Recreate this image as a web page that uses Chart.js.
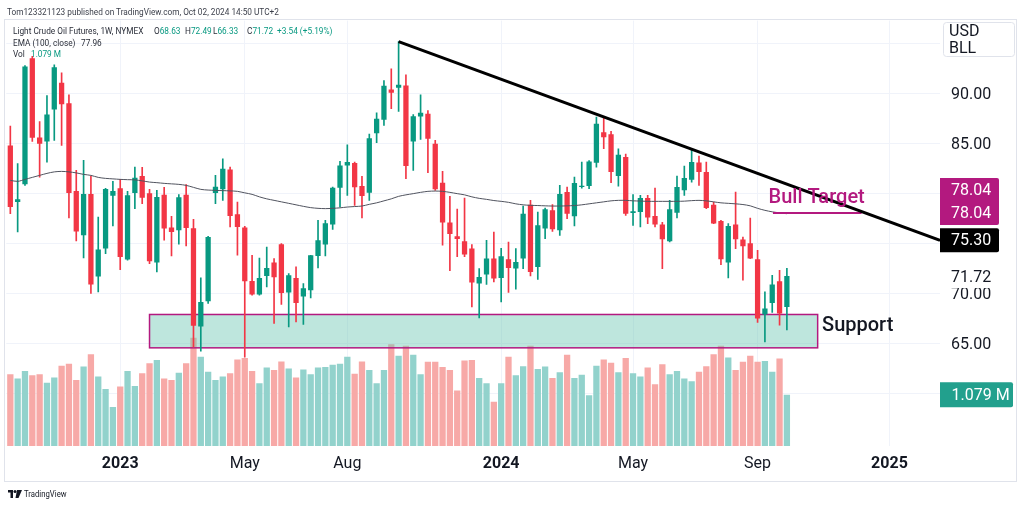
<!DOCTYPE html>
<html>
<head>
<meta charset="utf-8">
<script src="https://cdn.jsdelivr.net/npm/chart.js@4.4.1/dist/chart.umd.min.js"></script>
<style>
  body { margin: 0; background: #fff; font-family: Roboto, "Noto Sans", sans-serif; color: #131722; }
  #wrap { position: relative; width: 1024px; height: 506px; overflow: hidden; }
  #c { position: absolute; left: 0; top: 0; }
  .frame { position: absolute; left: 4px; top: 19px; width: 1013px; height: 463px; border: 1px solid #e0e3eb; box-sizing: border-box; }
  .t { position: absolute; white-space: nowrap; line-height: 11px; font-size: 9.2px; color: #2a2e39; transform: scaleX(0.9); transform-origin: 0 0; }
  .g { color: #089981; }
</style>
</head>
<body>
<div id="wrap">
  <div class="frame"></div>
  <canvas id="c" width="1024" height="506"></canvas>
  <div class="t" style="left:7px;top:6px;font-size:9.6px;color:#3b3f4a;transform:scaleX(0.86)">Tom123321123 published on TradingView.com, Oct 02, 2024 14:50 UTC+2</div>
  <div class="t" style="left:12.7px;top:25px">Light Crude Oil Futures, 1W, NYMEX</div>
  <div class="t" style="left:154px;top:25px">O<span class="g">68.63</span></div>
  <div class="t" style="left:185px;top:25px">H<span class="g">72.49</span></div>
  <div class="t" style="left:213px;top:25px">L<span class="g">66.33</span></div>
  <div class="t" style="left:246.5px;top:25px">C<span class="g">71.72</span></div>
  <div class="t g" style="left:277px;top:25px">+3.54 (+5.19%)</div>
  <div class="t" style="left:12.7px;top:37px">EMA (100, close)</div>
  <div class="t" style="left:81px;top:37px">77.96</div>
  <div class="t" style="left:12.7px;top:48px">Vol</div>
  <div class="t g" style="left:30.7px;top:48px">1.079 M</div>
  <svg style="position:absolute;left:8px;top:490px" width="14" height="8" viewBox="0 0 14 8">
    <path d="M0 0h5v8h-2.5v-5.5h-2.5z" fill="#131722"/>
    <circle cx="7" cy="1.6" r="1.5" fill="#131722"/>
    <path d="M9 0h5l-3.5 8h-3z" fill="#131722"/>
  </svg>
  <div class="t" style="left:24px;top:489px;font-size:8.6px;line-height:10px;color:#131722">TradingView</div>
</div>
<script>
// weekly candles, week of Sep 19 2022 ... week of Sep 30 2024 (index 0..106)
const opens = [84.80, 79.13, 80.90, 93.53, 85.60, 85.20, 88.40, 91.07, 89.03, 80.23,
  75.80, 79.93, 71.67, 74.47, 79.77, 80.50, 73.37, 80.03, 81.73, 80.00,
  73.07, 79.87, 76.57, 76.30, 79.87, 76.50, 66.67, 69.20, 80.03, 80.40,
  82.40, 77.90, 76.57, 71.23, 69.87, 71.73, 73.07, 74.90, 70.07, 71.53,
  69.67, 70.30, 73.73, 74.87, 76.87, 80.57, 82.80, 83.03, 80.73, 80.07,
  86.03, 87.37, 90.40, 90.57, 90.80, 85.20, 87.70, 87.97, 84.97, 81.07,
  77.07, 75.70, 75.20, 74.47, 70.97, 71.87, 73.47, 71.53, 73.40, 72.47,
  73.47, 78.87, 72.63, 76.47, 78.30, 76.30, 80.13, 77.70, 80.63, 80.73,
  83.07, 86.13, 85.93, 81.73, 83.63, 78.03, 78.13, 79.53, 77.73, 76.87,
  75.20, 78.07, 80.30, 81.37, 83.10, 82.13, 78.87, 77.23, 73.07, 76.87,
  75.37, 75.00, 73.40, 67.87, 69.03, 71.20, 68.63];
const highs = [86.73, 82.97, 92.80, 93.73, 87.20, 89.80, 92.87, 92.07, 89.87, 82.30,
  83.30, 81.73, 77.63, 80.50, 81.20, 81.40, 80.20, 82.63, 82.60, 80.40,
  80.30, 80.60, 77.70, 79.87, 80.87, 77.40, 71.53, 75.70, 81.80, 83.47,
  82.63, 79.13, 76.70, 73.80, 73.53, 74.63, 73.47, 74.97, 71.97, 72.63,
  70.97, 73.80, 77.30, 77.30, 80.63, 83.20, 84.87, 83.13, 81.70, 85.93,
  88.07, 91.30, 92.47, 95.20, 91.87, 87.90, 89.87, 88.30, 85.30, 82.20,
  79.70, 78.43, 79.53, 74.87, 72.47, 75.30, 76.13, 74.50, 75.13, 74.47,
  78.73, 79.30, 78.13, 78.53, 78.87, 80.80, 80.63, 81.63, 83.13, 83.27,
  87.63, 87.70, 86.20, 84.47, 83.93, 79.87, 79.80, 79.80, 80.53, 77.10,
  79.30, 81.73, 82.73, 84.47, 83.73, 83.13, 79.13, 77.30, 76.97, 80.13,
  75.63, 77.53, 74.30, 70.13, 71.80, 72.30, 72.49];
const lows = [77.97, 76.13, 80.80, 85.20, 81.63, 83.13, 85.30, 84.80, 77.53, 75.23,
  73.53, 69.97, 70.13, 73.97, 76.73, 72.37, 73.30, 78.47, 78.97, 72.97,
  72.13, 75.30, 73.73, 74.90, 74.73, 64.60, 64.20, 68.97, 78.97, 79.30,
  76.63, 73.80, 63.60, 69.80, 69.80, 70.63, 66.97, 68.87, 66.63, 67.13,
  66.87, 69.53, 72.53, 73.73, 76.40, 78.63, 79.80, 78.80, 77.53, 79.30,
  85.07, 86.80, 88.47, 88.20, 81.47, 82.30, 85.40, 82.07, 80.30, 74.80,
  72.27, 73.67, 73.67, 68.63, 67.53, 70.87, 71.13, 69.13, 70.07, 70.40,
  72.47, 71.73, 71.37, 75.47, 76.20, 75.80, 77.47, 76.73, 80.53, 80.47,
  82.63, 84.47, 81.07, 80.73, 77.80, 76.80, 76.63, 76.97, 76.63, 72.47,
  75.13, 77.53, 79.80, 81.13, 80.80, 78.47, 76.97, 72.87, 71.53, 74.47,
  71.30, 73.47, 67.07, 65.13, 68.07, 66.80, 66.33];
const closes = [78.63, 79.40, 92.70, 85.57, 84.97, 87.90, 92.63, 88.93, 80.03, 76.17,
  79.93, 70.87, 74.37, 80.43, 80.23, 73.63, 79.80, 81.57, 79.57, 73.20,
  79.63, 76.47, 76.13, 79.60, 76.53, 66.73, 69.13, 75.63, 80.67, 82.47,
  77.73, 76.63, 71.20, 69.87, 71.53, 72.53, 71.60, 70.03, 71.80, 69.03,
  70.50, 73.80, 75.30, 77.00, 80.57, 82.80, 83.13, 80.60, 79.73, 85.53,
  87.47, 90.77, 90.07, 90.87, 82.73, 87.73, 88.07, 85.47, 80.40, 77.07,
  75.93, 75.43, 73.87, 71.07, 71.63, 73.47, 71.47, 73.70, 72.53, 73.13,
  77.97, 72.13, 76.80, 78.40, 76.40, 79.93, 77.97, 81.03, 80.77, 83.20,
  86.97, 85.63, 82.13, 83.87, 77.97, 78.20, 79.53, 77.57, 76.87, 75.40,
  78.40, 80.63, 81.53, 83.13, 82.13, 78.53, 76.97, 73.40, 76.73, 75.40,
  74.70, 73.47, 67.47, 68.47, 70.87, 67.97, 71.72];
// volume, millions
const volumes = [1.51, 1.42, 1.58, 1.49, 1.51, 1.33, 1.44, 1.69, 1.73, 1.39,
  1.67, 1.93, 1.46, 1.20, 0.82, 1.25, 1.58, 1.26, 1.53, 1.74,
  1.81, 1.42, 1.39, 1.54, 1.74, 2.28, 1.88, 1.56, 1.39, 1.46,
  1.53, 1.82, 1.85, 1.58, 1.32, 1.65, 1.60, 1.78, 1.63, 1.44,
  1.61, 1.51, 1.65, 1.66, 1.71, 1.73, 1.88, 1.52, 1.78, 1.60,
  1.32, 1.60, 2.14, 1.90, 2.11, 1.92, 1.51, 1.77, 1.77, 1.66,
  1.60, 1.17, 1.80, 1.81, 1.43, 1.32, 0.93, 1.32, 1.88, 1.49,
  1.68, 2.11, 1.62, 1.67, 1.43, 1.55, 1.92, 1.43, 1.50, 1.07,
  1.69, 1.82, 1.75, 1.55, 1.85, 1.53, 1.46, 1.65, 1.30, 1.72,
  1.51, 1.58, 1.42, 1.36, 1.56, 1.68, 1.93, 2.11, 1.86, 1.60,
  1.77, 1.90, 1.77, 1.79, 1.56, 1.84, 1.079];
const ema100 = [81.30, 81.20, 81.40, 81.60, 81.80, 82.00, 82.15, 82.20, 82.15, 82.05,
  81.90, 81.80, 81.60, 81.50, 81.45, 81.40, 81.37, 81.35, 81.25, 81.13,
  81.07, 81.00, 80.95, 80.90, 80.80, 80.60, 80.40, 80.33, 80.30, 80.27,
  80.25, 80.20, 80.05, 79.90, 79.65, 79.45, 79.30, 79.15, 79.00, 78.85,
  78.70, 78.57, 78.50, 78.47, 78.50, 78.55, 78.63, 78.68, 78.73, 78.90,
  79.05, 79.25, 79.45, 79.70, 79.85, 79.97, 80.10, 80.20, 80.23, 80.20,
  80.10, 79.97, 79.85, 79.65, 79.50, 79.40, 79.28, 79.20, 79.10, 78.95,
  78.85, 78.80, 78.78, 78.75, 78.73, 78.73, 78.75, 78.78, 78.85, 78.95,
  79.05, 79.15, 79.25, 79.30, 79.30, 79.25, 79.23, 79.20, 79.20, 79.20,
  79.20, 79.20, 79.22, 79.27, 79.30, 79.25, 79.15, 79.05, 79.00, 78.95,
  78.88, 78.75, 78.50, 78.30, 78.15, 78.05, 77.96];

const tickIndex = [15, 32, 46, 67, 85, 102, 120];
const tickLabels = ["2023", "May", "Aug", "2024", "May", "Sep", "2025"];
const priceTicks = [60, 65, 70, 75, 80, 85, 90, 95];

// drawings
const trendX = [53, 126.9];
const trendY = [95.2, 75.3];
const targetX = [104.1, 116.2];
const targetPrice = 78.04;
const supportX = [19, 110.2];
const supportY = [64.53, 67.87];
const lastClose = 71.72;
const lastVolume = 1.079;

const UP = "#089981";
const DOWN = "#f23645";
const VOL_UP = "#92d2cc";
const VOL_DOWN = "#f7a9a7";
const MAGENTA = "#b3197f";

function isUp(i) { return i === undefined || closes[i] >= opens[i]; }

const overlay = {
  id: "overlay",
  afterDatasetDraw(chart, args) {
    if (args.index !== 5) return; // right after the volume bars
    const { ctx, scales: { x, y } } = chart;
    const x0 = x.getPixelForValue(supportX[0]), x1 = x.getPixelForValue(supportX[1]);
    const y0 = y.getPixelForValue(supportY[1]), y1 = y.getPixelForValue(supportY[0]);
    ctx.save();
    ctx.fillStyle = "rgba(110,200,180,0.45)";
    ctx.fillRect(x0, y0, x1 - x0, y1 - y0);
    ctx.strokeStyle = MAGENTA;
    ctx.lineWidth = 1.5;
    ctx.strokeRect(x0, y0, x1 - x0, y1 - y0);
    ctx.restore();
  },
  afterDraw(chart) {
    const { ctx, scales: { x, y, yv }, chartArea } = chart;
    const ax = chartArea.right;
    ctx.save();
    ctx.textBaseline = "alphabetic";
    ctx.textAlign = "left";
    ctx.font = "500 20px Roboto";
    ctx.fillStyle = "#131722";
    ctx.fillText("Support", x.getPixelForValue(110.8), y.getPixelForValue(66.2));
    ctx.fillStyle = MAGENTA;
    ctx.fillText("Bull Target", x.getPixelForValue(103.5), y.getPixelForValue(79.05));

    ctx.font = "16px Roboto";
    ctx.textBaseline = "middle";
    // currency box
    ctx.fillStyle = "#fff";
    ctx.strokeStyle = "#e0e3eb";
    ctx.lineWidth = 1;
    ctx.beginPath();
    ctx.roundRect(943.5, 22.5, 71, 34, 3);
    ctx.fill();
    ctx.stroke();
    ctx.fillStyle = "#131722";
    ctx.fillText("USD", 949, 32);
    ctx.fillText("BLL", 949, 48.5);

    // bull target labels
    const pt = y.getPixelForValue(targetPrice);
    ctx.fillStyle = MAGENTA;
    ctx.beginPath();
    ctx.roundRect(ax, pt - 35, 59, 47, [0, 2, 2, 0]);
    ctx.fill();
    ctx.fillStyle = "#fff";
    ctx.fillText(targetPrice.toFixed(2), ax + 11, pt - 22);
    ctx.fillText(targetPrice.toFixed(2), ax + 11, pt + 1);

    // trend line label
    const ptl = y.getPixelForValue(trendY[1]);
    ctx.fillStyle = "#000";
    ctx.beginPath();
    ctx.roundRect(ax, ptl - 12, 59, 24, [0, 2, 2, 0]);
    ctx.fill();
    ctx.fillStyle = "#fff";
    ctx.fillText(trendY[1].toFixed(2), ax + 11, ptl + 1);

    // last close
    const pc = y.getPixelForValue(lastClose) + 2;
    ctx.fillStyle = "#fff";
    ctx.fillRect(ax + 1, pc - 11, 70, 21);
    ctx.fillStyle = "#131722";
    ctx.fillText(lastClose.toFixed(2), ax + 11, pc);

    // volume label
    const pv = yv.getPixelForValue(lastVolume);
    ctx.fillStyle = "#22a08d";
    ctx.beginPath();
    ctx.roundRect(ax, pv - 12.5, 73, 25, [0, 2, 2, 0]);
    ctx.fill();
    ctx.fillStyle = "#fff";
    ctx.fillText(lastVolume.toFixed(3) + " M", ax + 11.5, pv + 1);
    ctx.restore();
  }
};

new Chart(document.getElementById("c"), {
  type: "bar",
  data: {
    datasets: [
      {
        type: "line", label: "Trend",
        data: trendX.map((v, i) => ({ x: v, y: trendY[i] })),
        borderColor: "#000", borderWidth: 3, pointRadius: 0, order: 0
      },
      {
        type: "line", label: "Bull Target",
        data: targetX.map(v => ({ x: v, y: targetPrice })),
        borderColor: MAGENTA, borderWidth: 2, pointRadius: 0, order: 0
      },
      {
        type: "line", label: "EMA (100, close)",
        data: ema100.map((v, i) => ({ x: i, y: v })),
        borderColor: "#50535e", borderWidth: 1, pointRadius: 0, tension: 0.3, order: 1
      },
      {
        label: "Body",
        data: opens.map((o, i) => ({ x: i, y: [o, closes[i]] })),
        backgroundColor: c => isUp(c.dataIndex) ? UP : DOWN,
        barPercentage: 0.72, categoryPercentage: 1, grouped: false, minBarLength: 1, order: 2
      },
      {
        label: "Wick",
        data: lows.map((l, i) => ({ x: i, y: [l, highs[i]] })),
        backgroundColor: c => isUp(c.dataIndex) ? UP : DOWN,
        barThickness: 1, grouped: false, order: 3
      },
      {
        label: "Vol",
        data: volumes.map((v, i) => ({ x: i, y: v })),
        yAxisID: "yv",
        backgroundColor: c => isUp(c.dataIndex) ? VOL_UP : VOL_DOWN,
        barPercentage: 0.86, categoryPercentage: 1, grouped: false, order: 5
      }
    ]
  },
  options: {
    responsive: false,
    animation: false,
    devicePixelRatio: 1,
    layout: { padding: { left: 6.3, top: 20, right: 6, bottom: 24 } },
    plugins: { legend: { display: false }, tooltip: { enabled: false } },
    scales: {
      x: {
        type: "linear", min: -0.55, max: 126.9, offset: false,
        grid: { color: "#f0f3fa", drawTicks: false, offset: false },
        border: { display: false },
        afterBuildTicks: ax => { ax.ticks = tickIndex.map(v => ({ value: v })); },
        afterFit: ax => { ax.height = 36; },
        ticks: {
          autoSkip: false, maxRotation: 0, padding: 8.4, color: "#131722",
          font: c => {
            const lab = c.tick ? tickLabels[tickIndex.indexOf(c.tick.value)] : "";
            return { family: "Roboto", size: 16, weight: /^\d/.test(lab || "") ? "bold" : "normal" };
          },
          callback: v => tickLabels[tickIndex.indexOf(v)] || ""
        }
      },
      y: {
        type: "linear", position: "right", min: 54.7, max: 97.3,
        grid: { color: "#f0f3fa", drawTicks: false },
        border: { display: false },
        afterBuildTicks: ax => { ax.ticks = priceTicks.map(v => ({ value: v })); },
        afterFit: ax => { ax.width = 78; },
        ticks: { padding: 11, labelOffset: 1.5, color: "#131722", font: { family: "Roboto", size: 16 }, callback: v => v.toFixed(2) }
      },
      yv: { display: false, min: 0, max: 8.95 }
    }
  },
  plugins: [overlay]
});
</script>
</body>
</html>
